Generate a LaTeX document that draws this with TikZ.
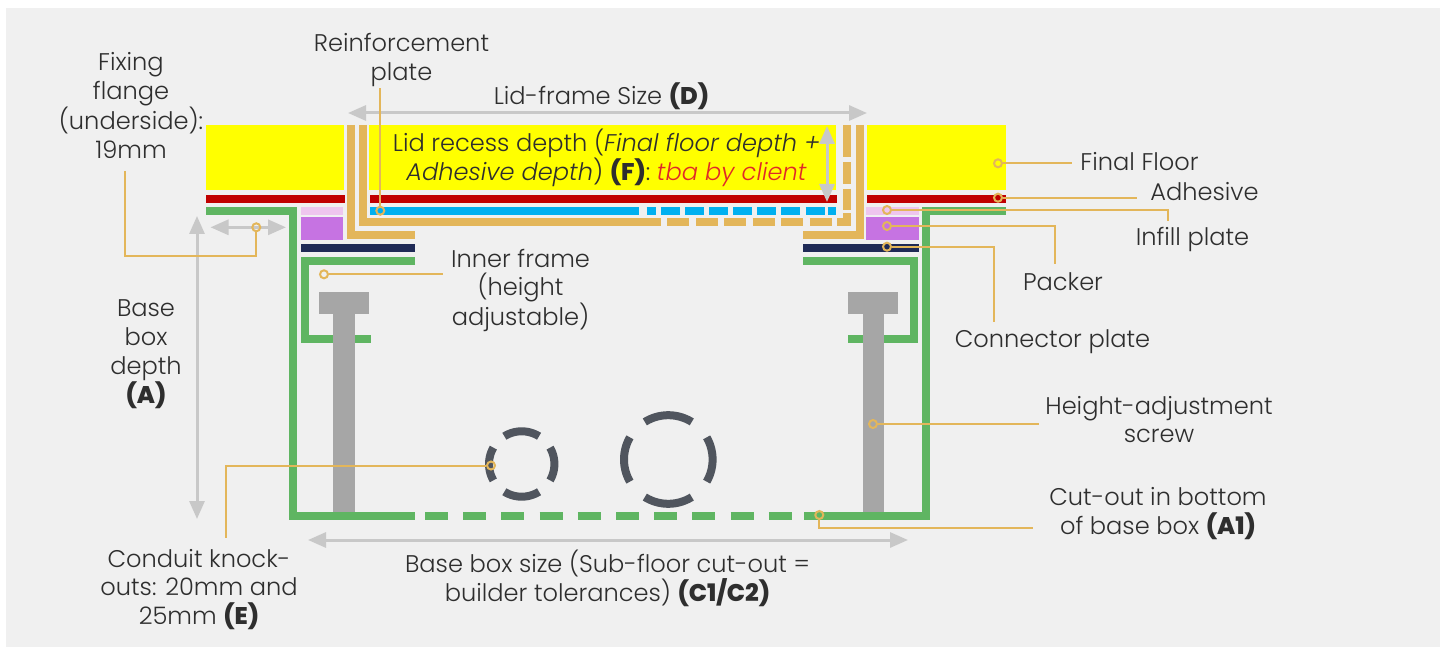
\documentclass[tikz,border=0pt]{standalone}
\usepackage{fontspec}
\setmainfont{Poppins}[UprightFont=* Light,ItalicFont=* Light Italic,BoldFont=* ExtraBold,BoldItalicFont=* ExtraBold Italic]
\usetikzlibrary{arrows.meta}
\definecolor{bgc}{HTML}{F0F0F0}
\definecolor{yel}{HTML}{FFFF00}
\definecolor{redc}{HTML}{C00000}
\definecolor{grn}{HTML}{5FB562}
\definecolor{tanc}{HTML}{E3B65A}
\definecolor{blu}{HTML}{00B0F0}
\definecolor{nav}{HTML}{1F2A56}
\definecolor{pur}{HTML}{C673E2}
\definecolor{pnk}{HTML}{EEC6EE}
\definecolor{gry}{HTML}{A6A6A6}
\definecolor{ring}{HTML}{50555E}
\definecolor{arr}{HTML}{C8C8C8}
\definecolor{txt}{HTML}{2E2E2E}
\definecolor{tba}{HTML}{E02828}
\tikzset{
  x=1pt,y=-1pt,
  lab/.style={text=txt,align=center,inner sep=0pt,font=\fontsize{24.1}{28.9}\selectfont},
  dot/.style={circle,draw=tanc,line width=2pt,minimum size=8pt,inner sep=0pt},
  leader/.style={draw=tanc,line width=2pt},
  dim/.style={draw=arr,line width=3pt,{Triangle[length=18pt,width=15pt]}-{Triangle[length=18pt,width=15pt]}},
  gline/.style={draw=grn,line width=8pt,miter limit=10},
  tline/.style={draw=tanc,line width=8pt,miter limit=10},
  bline/.style={draw=blu,line width=8pt},
  rarc/.style={draw=ring,line width=8pt},
}
\begin{document}
\begin{tikzpicture}
\useasboundingbox (0,0) rectangle (1446,647);
\fill[bgc] (6,8) rectangle (1440,647);
% final floor
\fill[yel] (206,125) rectangle (344,190);
\fill[yel] (369,125) rectangle (836,190);
\fill[yel] (867,125) rectangle (1006,190);
% adhesive
\fill[redc] (206,195) rectangle (345,203);
\fill[redc] (370,195) rectangle (836.5,203);
\fill[redc] (867,195) rectangle (1006,203);
% infill and packer
\fill[pnk] (301.3,207) rectangle (343.3,215.3);
\fill[pnk] (866,207) rectangle (919.3,215.3);
\fill[pur] (301.3,216.7) rectangle (343.3,240.3);
\fill[pur] (866,216.7) rectangle (919.3,240.3);
% connector plates
\fill[nav] (301.3,244.3) rectangle (415,252.3);
\fill[nav] (803,243.7) rectangle (919.3,251.7);
% base box
\draw[gline] (206,211) -- (293.3,211) -- (293.3,516) -- (414.7,516);
\draw[gline] (1006,211) -- (926,211) -- (926,516) -- (804,516);
\foreach \a in {425,463.2,501.4,539.6,577.8,616,654.2,692.4,730.6,768.8}
  \draw[gline] (\a,516) -- (\a+23,516);
% inner frame
\draw[gline] (415,261) -- (305,261) -- (305,339) -- (371,339);
\draw[gline] (803,261) -- (914.3,261) -- (914.3,339) -- (848.3,339);
% screws
\fill[gry] (319.3,292) rectangle (369.3,313.7);
\fill[gry] (333.3,313) rectangle (355,512);
\fill[gry] (848.3,292) rectangle (898.3,313.7);
\fill[gry] (862.7,313) rectangle (884.3,512);
% lid frame
\draw[tline] (351,125) -- (351,235) -- (415,235);
\draw[tline] (860,125) -- (860,235) -- (803,235);
\draw[tline] (363.3,125) -- (363.3,222.5) -- (661,222.5);
\foreach \a/\b in {667.3/689.3,696/718,724.3/746.3,752.7/775,781/803,809.7/832}
  \draw[tline] (\a,222.5) -- (\b,222.5);
\draw[tline] (837.3,222.5) -- (846.7,222.5) -- (846.7,212.7);
\foreach \a/\b in {125/157,162.3/184,189/210}
  \draw[tline] (846.7,\a) -- (846.7,\b);
% reinforcement plate
\draw[bline] (370,211) -- (639.3,211);
\foreach \a/\b in {646.7/655.7,660.7/680,685/704.3,709/728.3,733/752.3,757/776.3,781.3/800.3,805.7/825,827.7/836.3}
  \draw[bline] (\a,211) -- (\b,211);
% knock-outs
\foreach \cx/\cy/\r in {521.7/464/32.7,668.3/459.5/44.3}
  \foreach \s/\e in {-30/30,58/122,150/210,238/302}
    \draw[rarc] plot[domain=\s:\e,samples=24,smooth] ({\cx+\r*cos(\x)},{\cy+\r*sin(\x)});
% dimension arrows
\coordinate (lidL) at (348,113); \coordinate (lidR) at (867,113);
\coordinate (recT) at (827,126); \coordinate (recB) at (827,202);
\coordinate (flaL) at (210.5,227.3); \coordinate (flaR) at (286,227.3);
\coordinate (depT) at (197,216); \coordinate (depB) at (197,519);
\coordinate (sizL) at (308,540); \coordinate (sizR) at (908,540);
\draw[dim] (lidL) -- (lidR);
\draw[dim] (recT) -- (recB);
\draw[dim] (flaL) -- (flaR);
\draw[dim] (depT) -- (depB);
\draw[dim] (sizL) -- (sizR);
% labels
\node[lab] (tFix) at (131,105.5) {Fixing\\flange\\(underside):\\19mm};
\node[lab] (tRei) at (401.5,60) {Reinforcement\\plate};
\node[lab] (tLid) at (601.5,96) {Lid-frame Size \textbf{(D)}};
\node[lab] (tRec) at (606.5,158) {Lid recess depth (\textit{Final floor depth +}\\\textit{Adhesive depth}) \textbf{(F)}: \textcolor{tba}{\textit{tba by client}}};
\node[lab] (tFin) at (1139.5,162) {Final Floor};
\node[lab] (tAdh) at (1204.5,192) {Adhesive};
\node[lab] (tInf) at (1192.5,239) {Infill plate};
\node[lab] (tPac) at (1063,282) {Packer};
\node[lab] (tCon) at (1052.5,342) {Connector plate};
\node[lab] (tHei) at (1159,419.5) {Height-adjustment\\screw};
\node[lab] (tCut) at (1158,513.5) {Cut-out in bottom\\of base box \textbf{(A1)}};
\node[lab] (tInn) at (520.5,290.5) {Inner frame\\(height\\adjustable)};
\node[lab] (tBas) at (146,354) {Base\\box\\depth\\\textbf{(A)}};
\node[lab] (tCon2) at (199,589.5) {Conduit knock-\\outs: 20mm and\\25mm \textbf{(E)}};
\node[lab] (tSiz) at (607.5,578.5) {Base box size (Sub-floor cut-out =\\builder tolerances) \textbf{(C1/C2)}};
% leaders
\node[dot] (dRei) at (380.3,210.7) {};
\node[dot] (dFix) at (256.3,227.3) {};
\node[dot] (dInn) at (324,274.3) {};
\node[dot] (dFin) at (998,163.3) {};
\node[dot] (dAdh) at (998,197.7) {};
\node[dot] (dInf) at (887,210) {};
\node[dot] (dPac) at (887,226) {};
\node[dot] (dCon) at (887,246.7) {};
\node[dot] (dHei) at (873,424) {};
\node[dot] (dCut) at (819.3,515) {};
\node[dot] (dKno) at (491,465.5) {};
\coordinate (eRei) at (380.3,88);
\coordinate (eFix) at (125,171);
\coordinate (kFix) at (125,255.7);
\coordinate (eInn) at (443,274.3);
\coordinate (eFin) at (1071.7,163.3);
\coordinate (eAdh) at (1136.7,197.7);
\coordinate (eInf) at (1167.7,221);
\coordinate (ePac) at (1055.3,264.3);
\coordinate (eCon) at (994,321.7);
\coordinate (eHei) at (1039.3,424);
\coordinate (eCut) at (1033,528);
\coordinate (eKno) at (226,538);
\draw[leader] (dRei) -- (eRei);
\draw[leader] (eFix) -- (kFix) -| (dFix);
\draw[leader] (dInn) -- (eInn);
\draw[leader] (dFin) -- (eFin);
\draw[leader] (dAdh) -- (eAdh);
\draw[leader] (dInf) -| (eInf);
\draw[leader] (dPac) -| (ePac);
\draw[leader] (dCon) -| (eCon);
\draw[leader] (dHei) -- (eHei);
\draw[leader] (dCut) |- (eCut);
\draw[leader] (dKno) -| (eKno);
\end{tikzpicture}
\end{document}
